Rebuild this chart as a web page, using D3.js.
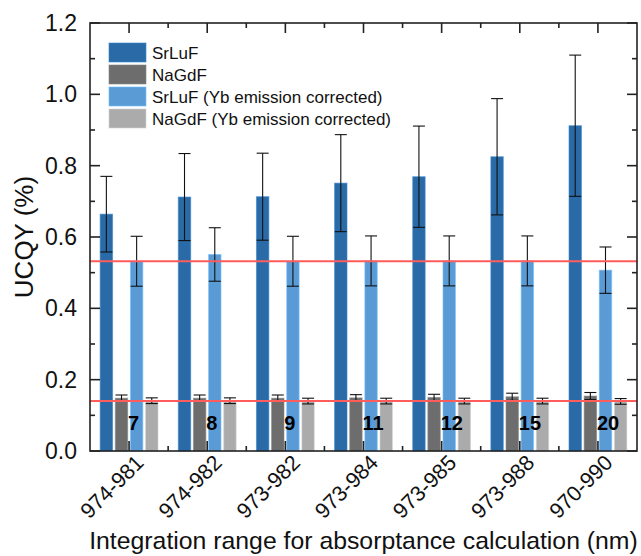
<!DOCTYPE html>
<html>
<head>
<meta charset="utf-8">
<script src="https://cdn.jsdelivr.net/npm/d3@7"></script>
<style>
  html, body { margin: 0; padding: 0; background: #fff; }
  svg { display: block; font-family: "Liberation Sans", Arial, sans-serif; }
</style>
</head>
<body>
<svg id="chart" width="641" height="556"></svg>
<script>
// Integration ranges (nm) and their widths (nm)
const categories = ["974-981", "974-982", "973-982", "973-984", "973-985", "973-988", "970-990"];
const rangeWidths = ["7", "8", "9", "11", "12", "15", "20"];

// UCQY (%) per series, with error bars
const srluf        = [0.664, 0.712, 0.713, 0.751, 0.769, 0.825, 0.912];
const srlufErr     = [0.106, 0.122, 0.122, 0.136, 0.142, 0.163, 0.198];
const nagdf        = [0.148, 0.148, 0.148, 0.149, 0.150, 0.152, 0.154];
const nagdfErr     = [0.009, 0.009, 0.009, 0.009, 0.009, 0.010, 0.010];
const srlufCorr    = [0.532, 0.551, 0.532, 0.533, 0.533, 0.533, 0.507];
const srlufCorrErr = [0.070, 0.075, 0.070, 0.070, 0.070, 0.070, 0.065];
const nagdfCorr    = [0.141, 0.141, 0.140, 0.140, 0.140, 0.140, 0.139];
const nagdfCorrErr = [0.008, 0.008, 0.008, 0.008, 0.008, 0.008, 0.008];

const seriesNames = ["SrLuF", "NaGdF", "SrLuF (Yb emission corrected)", "NaGdF (Yb emission corrected)"];
const seriesColors = ["#2a6ba7", "#6d6d6d", "#5b9bd5", "#ababab"];

// Horizontal reference levels
const refLines = [0.532, 0.140];

const yTicks = [0.0, 0.2, 0.4, 0.6, 0.8, 1.0, 1.2];

const series = [
  { name: seriesNames[0], values: srluf, errs: srlufErr },
  { name: seriesNames[1], values: nagdf, errs: nagdfErr },
  { name: seriesNames[2], values: srlufCorr, errs: srlufCorrErr },
  { name: seriesNames[3], values: nagdfCorr, errs: nagdfCorrErr }
];

const svg = d3.select("#chart");
const m = { left: 90, right: 637, top: 23, bottom: 451 };

const x0 = d3.scaleBand().domain(categories).range([m.left, m.right])
  .paddingInner(0.26).paddingOuter(0.13);
const x1 = d3.scaleBand().domain(seriesNames).range([0, x0.bandwidth()])
  .paddingInner(0.18).paddingOuter(0);
const y = d3.scaleLinear().domain([0, 1.2]).range([m.bottom, m.top]);
const color = d3.scaleOrdinal().domain(seriesNames).range(seriesColors);

// Bars
const groups = svg.append("g").selectAll("g")
  .data(categories).join("g")
  .attr("transform", d => `translate(${x0(d)},0)`);

groups.selectAll("rect")
  .data((c, i) => series.map(s => ({ name: s.name, v: s.values[i], e: s.errs[i] })))
  .join("rect")
  .attr("x", d => x1(d.name))
  .attr("width", x1.bandwidth())
  .attr("y", d => y(d.v))
  .attr("height", d => y(0) - y(d.v))
  .attr("fill", d => color(d.name))
  .attr("stroke", d => d3.color(color(d.name)).brighter(0.6))
  .attr("stroke-opacity", 0.6)
  .attr("stroke-width", 1);

// Error bars
const capW = 12;
const eb = groups.selectAll("g.err")
  .data((c, i) => series.map(s => ({ name: s.name, v: s.values[i], e: s.errs[i] })))
  .join("g").attr("class", "err")
  .attr("stroke", "#111").attr("stroke-width", 1.1).attr("fill", "none");
eb.append("line")
  .attr("x1", d => x1(d.name) + x1.bandwidth() / 2)
  .attr("x2", d => x1(d.name) + x1.bandwidth() / 2)
  .attr("y1", d => y(d.v - d.e)).attr("y2", d => y(d.v + d.e));
eb.append("line")
  .attr("x1", d => x1(d.name) + x1.bandwidth() / 2 - capW / 2)
  .attr("x2", d => x1(d.name) + x1.bandwidth() / 2 + capW / 2)
  .attr("y1", d => y(d.v + d.e)).attr("y2", d => y(d.v + d.e));
eb.append("line")
  .attr("x1", d => x1(d.name) + x1.bandwidth() / 2 - capW / 2)
  .attr("x2", d => x1(d.name) + x1.bandwidth() / 2 + capW / 2)
  .attr("y1", d => y(d.v - d.e)).attr("y2", d => y(d.v - d.e));

// Reference lines
svg.append("g").selectAll("line").data(refLines).join("line")
  .attr("x1", m.left).attr("x2", m.right)
  .attr("y1", d => y(d)).attr("y2", d => y(d))
  .attr("stroke", "#ff5c5c").attr("stroke-width", 2);

// Range-width labels
svg.append("g").selectAll("text").data(categories).join("text")
  .attr("x", d => x0(d) + x0.bandwidth() / 2 - 1)
  .attr("y", y(0.06))
  .attr("text-anchor", "start")
  .attr("font-size", 20).attr("font-weight", "bold").attr("fill", "#000")
  .text((d, i) => rangeWidths[i]);

// Axes: ticks point inward on all four sides
const centers = categories.map(c => x0(c) + x0.bandwidth() / 2);
const bounds = d3.range(1, categories.length).map(i => m.left + i * x0.step());
const minorY = d3.range(0.1, 1.2, 0.2);

function xTicks(g, yPos, dir) {
  g.selectAll("line.maj").data(centers).join("line").attr("class", "maj")
    .attr("x1", d => d).attr("x2", d => d)
    .attr("y1", yPos).attr("y2", yPos + dir * 10);
  g.selectAll("line.min").data(bounds).join("line").attr("class", "min")
    .attr("x1", d => d).attr("x2", d => d)
    .attr("y1", yPos).attr("y2", yPos + dir * 5);
}
function yTickMarks(g, xPos, dir) {
  g.selectAll("line.maj").data(yTicks).join("line").attr("class", "maj")
    .attr("y1", d => y(d)).attr("y2", d => y(d))
    .attr("x1", xPos).attr("x2", xPos + dir * 10);
  g.selectAll("line.min").data(minorY).join("line").attr("class", "min")
    .attr("y1", d => y(d)).attr("y2", d => y(d))
    .attr("x1", xPos).attr("x2", xPos + dir * 5);
}
const tickG = svg.append("g").attr("stroke", "#222").attr("stroke-width", 1.6);
xTicks(tickG.append("g"), m.bottom, -1);
xTicks(tickG.append("g"), m.top, 1);
yTickMarks(tickG.append("g"), m.left, 1);
yTickMarks(tickG.append("g"), m.right, -1);

// Frame
svg.append("rect")
  .attr("x", m.left).attr("y", m.top)
  .attr("width", m.right - m.left).attr("height", m.bottom - m.top)
  .attr("fill", "none").attr("stroke", "#222").attr("stroke-width", 1.6);

// Y tick labels via d3 axis (lines hidden, labels only)
const yAxis = d3.axisLeft(y).tickValues(yTicks).tickFormat(d3.format(".1f"))
  .tickSize(0).tickPadding(13);
const yg = svg.append("g").attr("transform", `translate(${m.left},0)`).call(yAxis);
yg.select(".domain").remove();
yg.selectAll("text").attr("font-size", 23).attr("fill", "#111")
  .attr("font-family", "Liberation Sans, Arial, sans-serif");

// X tick labels, rotated
const xAxis = d3.axisBottom(x0).tickSize(0).tickPadding(0);
const xg = svg.append("g").attr("transform", `translate(0,${m.bottom})`).call(xAxis);
xg.select(".domain").remove();
xg.selectAll("text")
  .attr("font-size", 21.5).attr("fill", "#111")
  .attr("font-family", "Liberation Sans, Arial, sans-serif")
  .attr("text-anchor", "end")
  .attr("dy", null).attr("y", null)
  .attr("transform", "translate(16,13) rotate(-45)");

// Axis titles
svg.append("text")
  .attr("x", (m.left + m.right) / 2).attr("y", 549)
  .attr("text-anchor", "middle").attr("font-size", 24.8).attr("fill", "#111")
  .text("Integration range for absorptance calculation (nm)");
svg.append("text")
  .attr("transform", `translate(33,${(m.top + m.bottom) / 2}) rotate(-90)`)
  .attr("text-anchor", "middle").attr("font-size", 26).attr("fill", "#111")
  .text("UCQY (%)");

// Legend
const legend = svg.append("g").selectAll("g").data(seriesNames).join("g")
  .attr("transform", (d, i) => `translate(109,${43 + i * 22})`);
legend.append("rect")
  .attr("width", 37).attr("height", 19)
  .attr("fill", d => color(d))
  .attr("stroke", d => d3.color(color(d)).brighter(0.6))
  .attr("stroke-opacity", 0.6);
legend.append("text")
  .attr("x", 43).attr("y", 16)
  .attr("font-size", 17).attr("fill", "#111")
  .text(d => d);
</script>
</body>
</html>
